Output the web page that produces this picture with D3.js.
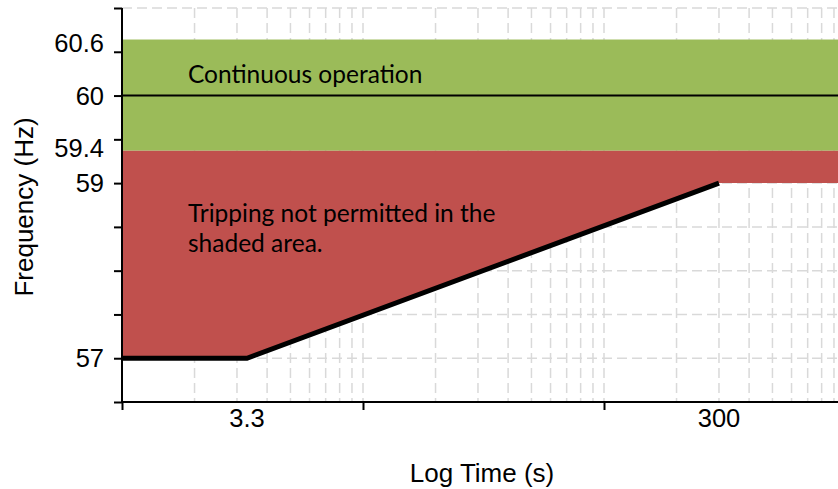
<!DOCTYPE html>
<html>
<head>
<meta charset="utf-8">
<script src="https://cdn.jsdelivr.net/npm/d3@7"></script>
<style>
  html, body { margin: 0; padding: 0; background: #fff; }
  svg { display: block; }
</style>
</head>
<body>
<svg id="chart" width="838" height="489"></svg>
<script>
// ---- data ----
const timeDomain = [1, 1000];           // seconds (log)
const freqDomain = [56.5, 61];          // Hz
const yTickValues = [56.5, 57, 57.5, 58, 58.5, 59, 59.5, 60, 60.5, 61];
const yTickLabels = [60.6, 60, 59.4, 59, 57];
const xTickValues = [1, 10, 100, 1000];
const xTickLabels = [3.3, 300];
const continuousBand = [59.37, 60.64];  // green band (Hz)
const nominalFreq = 60;
const tripTimes = [1, 3.3, 300, 1000];
const tripFreqs = [57, 57, 59, 59];
const lineTimes = [1, 3.3, 300];
const lineFreqs = [57, 57, 59];
const labelContinuous = "Continuous operation";
const labelTrip = ["Tripping not permitted in the", "shaded area."];
const xTitle = "Log Time (s)";
const yTitle = "Frequency (Hz)";

// ---- layout ----
const svg = d3.select("#chart");
const x = d3.scaleLog().domain(timeDomain).range([122, 845]);
const y = d3.scaleLinear().domain(freqDomain).range([402, 8]);
const x0 = x.range()[0], x1 = x.range()[1];
const yb = y.range()[0], yt = y.range()[1];

// minor log gridlines
const gridX = [];
for (let d = 1; d < 1000; d *= 10) for (let k = 1; k <= 9; k++) { const v = d * k; if (v > 1) gridX.push(v); }
gridX.push(1000);
const grid = svg.append("g").attr("stroke", "#d9d9d9").attr("stroke-width", 1.5).attr("stroke-dasharray", "10,5");
grid.selectAll("line.v").data(gridX).join("line").attr("class", "v")
  .attr("x1", d => x(d)).attr("x2", d => x(d)).attr("y1", yt).attr("y2", yb);
grid.selectAll("line.h").data(yTickValues.filter(v => v > freqDomain[0])).join("line").attr("class", "h")
  .attr("x1", x0).attr("x2", x1).attr("y1", d => y(d)).attr("y2", d => y(d));

// green band
svg.append("rect")
  .attr("x", x0).attr("width", x1 - x0)
  .attr("y", y(continuousBand[1])).attr("height", y(continuousBand[0]) - y(continuousBand[1]))
  .attr("fill", "#9BBB59");

// red area
const area = d3.area().x(d => x(d[0])).y0(d => y(d[1])).y1(() => y(continuousBand[0]));
svg.append("path")
  .datum(tripTimes.map((t, i) => [t, tripFreqs[i]]))
  .attr("d", area).attr("fill", "#C0504D");

// 60 Hz line
svg.append("line").attr("x1", x0).attr("x2", x1)
  .attr("y1", y(nominalFreq)).attr("y2", y(nominalFreq))
  .attr("stroke", "#000").attr("stroke-width", 2);

// trip line
svg.append("path")
  .datum(lineTimes.map((t, i) => [t, lineFreqs[i]]))
  .attr("d", d3.line().x(d => x(d[0])).y(d => y(d[1])))
  .attr("fill", "none").attr("stroke", "#000").attr("stroke-width", 5);

// axes
const yAxis = svg.append("g").attr("transform", `translate(${x0},0)`)
  .call(d3.axisLeft(y).tickValues(yTickValues).tickSize(8).tickFormat(""));
const xAxis = svg.append("g").attr("transform", `translate(0,${yb})`)
  .call(d3.axisBottom(x).tickValues(xTickValues).tickSize(8).tickFormat(""));
[yAxis, xAxis].forEach(a => {
  a.select(".domain").attr("stroke", "#000").attr("stroke-width", 2);
  a.selectAll(".tick line").attr("stroke", "#000").attr("stroke-width", 2);
});
xAxis.select(".domain").attr("d", `M${x0},0H${x1}`);
yAxis.select(".domain").attr("d", `M0,${yb}V${yt}`);

// tick labels
const font = "'Liberation Sans', Arial, sans-serif";
svg.append("g").selectAll("text").data(yTickLabels).join("text")
  .attr("x", 104).attr("y", d => y(d))
  .attr("text-anchor", "end").attr("dy", "0.36em")
  .attr("font-family", font).attr("font-size", 25.5).attr("fill", "#000")
  .text(d => d);
svg.append("g").selectAll("text").data(xTickLabels).join("text")
  .attr("x", d => x(d)).attr("y", 427)
  .attr("text-anchor", "middle")
  .attr("font-family", font).attr("font-size", 25.5).attr("fill", "#000")
  .text(d => d);

// axis titles
svg.append("text").attr("x", 482).attr("y", 482)
  .attr("text-anchor", "middle").attr("font-family", font).attr("font-size", 26)
  .text(xTitle);
svg.append("text").attr("transform", "translate(33,207) rotate(-90)")
  .attr("text-anchor", "middle").attr("font-family", font).attr("font-size", 26)
  .text(yTitle);

// annotations
const afont = "Lato, 'Open Sans', sans-serif";
svg.append("text").attr("x", 188).attr("y", 83)
  .attr("font-family", afont).attr("font-size", 24.5).attr("fill", "#000")
  .text(labelContinuous);
svg.append("g").selectAll("text").data(labelTrip).join("text")
  .attr("x", 188).attr("y", (d, i) => 222 + i * 30)
  .attr("font-family", afont).attr("font-size", 24.5).attr("fill", "#000")
  .text(d => d);
</script>
</body>
</html>
